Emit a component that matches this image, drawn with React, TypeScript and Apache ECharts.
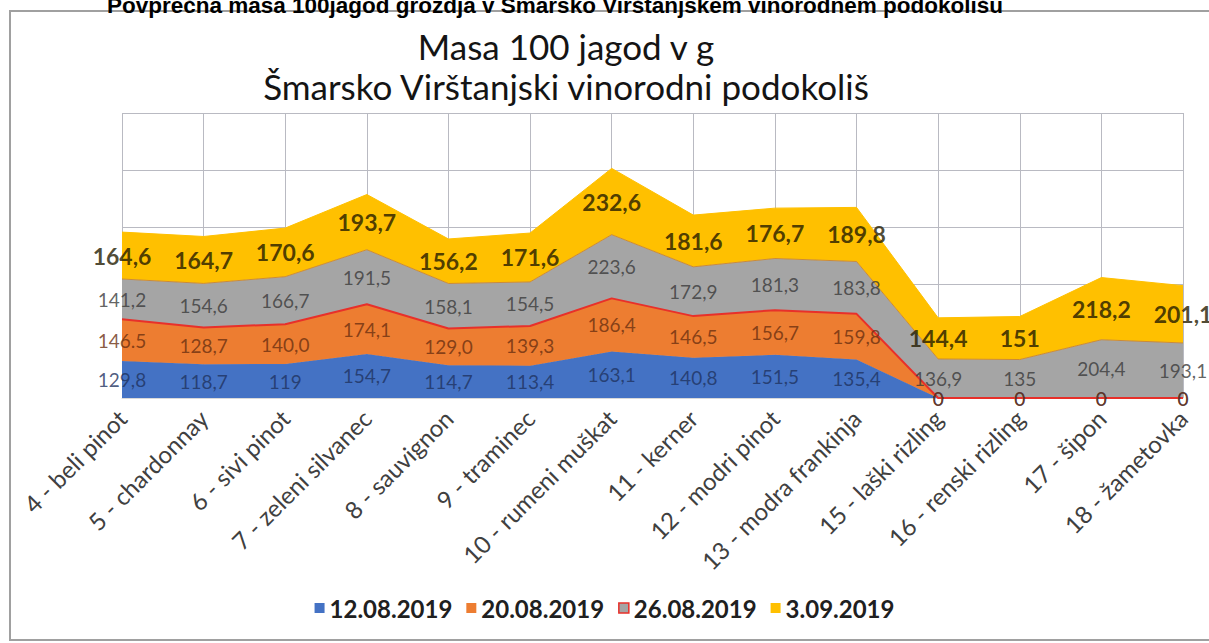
import React, { useEffect, useRef } from "react";
import * as echarts from "echarts";

const categories = [
  "4 - beli pinot",
  "5 - chardonnay",
  "6 - sivi pinot",
  "7 - zeleni silvanec",
  "8 - sauvignon",
  "9 - traminec",
  "10 - rumeni muškat",
  "11 - kerner",
  "12 - modri pinot",
  "13 - modra frankinja",
  "15 - laški rizling",
  "16 - renski rizling",
  "17 - šipon",
  "18 - žametovka",
];

const seriesNames = ["12.08.2019", "20.08.2019", "26.08.2019", "3.09.2019"];

const s1208 = [129.8, 118.7, 119, 154.7, 114.7, 113.4, 163.1, 140.8, 151.5, 135.4, 0, 0, 0, 0];
const s2008 = [146.5, 128.7, 140.0, 174.1, 129.0, 139.3, 186.4, 146.5, 156.7, 159.8, 0, 0, 0, 0];
const s2608 = [141.2, 154.6, 166.7, 191.5, 158.1, 154.5, 223.6, 172.9, 181.3, 183.8, 136.9, 135, 204.4, 193.1];
const s0309 = [164.6, 164.7, 170.6, 193.7, 156.2, 171.6, 232.6, 181.6, 176.7, 189.8, 144.4, 151, 218.2, 201.1];

const l1208 = ["129,8", "118,7", "119", "154,7", "114,7", "113,4", "163,1", "140,8", "151,5", "135,4", "0", "0", "0", "0"];
const l2008 = ["146.5", "128,7", "140,0", "174,1", "129,0", "139,3", "186,4", "146,5", "156,7", "159,8", "0", "0", "0", "0"];
const l2608 = ["141,2", "154,6", "166,7", "191,5", "158,1", "154,5", "223,6", "172,9", "181,3", "183,8", "136,9", "135", "204,4", "193,1"];
const l0309 = ["164,6", "164,7", "170,6", "193,7", "156,2", "171,6", "232,6", "181,6", "176,7", "189,8", "144,4", "151", "218,2", "201,1"];

const yMin = 0;
const yMax = 1000;
const yInterval = 200;

const pageTitle = "Povprečna masa 100jagod grozdja v Šmarsko Virštanjskem vinorodnem podokolišu";
const chartTitle1 = "Masa 100 jagod v g";
const chartTitle2 = "Šmarsko Virštanjski vinorodni podokoliš";

export default function App() {
  const ref = useRef<HTMLDivElement>(null);

  useEffect(() => {
    if (!ref.current) return;
    const chart = echarts.init(ref.current, null, { renderer: "svg" });

    const values = [s1208, s2008, s2608, s0309];
    const labels = [l1208, l2008, l2608, l0309];
    const fills = ["#4472C4", "#ED7D31", "#A5A5A5", "#FFC000"];
    const lines = ["#4A76C6", "#E8302A", "#C98A3A", "#FFC000"];
    const labelColors = ["#1F3360", "#6B3010", "#3A3A3A", "#221A00"];
    const font = "Lato, 'Open Sans', sans-serif";

    // midpoints of each stacked band (for centered data labels)
    const mids = values.map((arr, si) =>
      arr.map((v, i) => {
        let base = 0;
        for (let k = 0; k < si; k++) base += values[k][i];
        return base + v / 2;
      })
    );

    const areaSeries = values.map((arr, si) => ({
      name: seriesNames[si],
      type: "line",
      stack: "total",
      data: arr,
      symbol: "none",
      color: fills[si],
      lineStyle: { color: lines[si], width: si === 1 ? 2 : 1 },
      areaStyle: { color: fills[si], opacity: 1 },
      itemStyle: { color: fills[si] },
      z: si === 1 ? 4 : 2,
      silent: true,
    }));

    const labelSeries = mids.map((arr, si) => ({
      name: "lbl" + si,
      type: "scatter",
      data: arr,
      symbolSize: 0,
      clip: false,
      silent: true,
      z: 10,
      label: {
        show: true,
        position: "inside",
        formatter: (p: any) => labels[si][p.dataIndex],
        color: labelColors[si],
        fontFamily: font,
        fontSize: si === 3 ? 23 : 19,
        fontWeight: si === 3 ? "bold" : "normal",
      },
    }));

    chart.setOption({
      animation: false,
      backgroundColor: "#ffffff",
      textStyle: { fontFamily: font },
      grid: { left: 122, right: 26, top: 113, bottom: 245, containLabel: false },
      xAxis: {
        type: "category",
        data: categories,
        boundaryGap: false,
        axisLine: { show: true, lineStyle: { color: "#D9D9D9" } },
        axisTick: { show: false },
        splitLine: { show: true, lineStyle: { color: "#B9BAC2", width: 1 } },
        axisLabel: {
          rotate: 45,
          interval: 0,
          margin: 16,
          color: "#404040",
          fontFamily: font,
          fontSize: 24,
        },
      },
      yAxis: {
        type: "value",
        min: yMin,
        max: yMax,
        interval: yInterval,
        axisLabel: { show: false },
        axisLine: { show: false },
        axisTick: { show: false },
        splitLine: { show: true, lineStyle: { color: "#B9BAC2", width: 1 } },
      },
      legend: {
        top: 591,
        left: "center",
        itemWidth: 10,
        itemHeight: 10,
        itemGap: 14,
        icon: "rect",
        textStyle: { color: "#202020", fontFamily: font, fontSize: 24, fontWeight: "bold" },
        data: seriesNames.map((n, i) => ({
          name: n,
          icon: "rect",
          itemStyle:
            i === 2
              ? { color: fills[i], borderColor: "#E8302A", borderWidth: 1.5 }
              : { color: fills[i], borderWidth: 0 },
          lineStyle: { width: 0 },
        })),
      },
      graphic: [
        {
          type: "rect",
          shape: { x: 10, y: 11, width: 1210, height: 629 },
          style: { fill: "none", stroke: "#A0A0A0", lineWidth: 2 },
          silent: true,
        },
        {
          type: "text",
          x: 555,
          y: 5,
          style: {
            text: pageTitle,
            font: "bold 22.5px 'Liberation Sans', Arial, sans-serif",
            fill: "#000000",
            textAlign: "center",
            textVerticalAlign: "middle",
          },
          silent: true,
        },
        {
          type: "text",
          x: 566,
          y: 46,
          style: {
            text: chartTitle1,
            font: "35px Lato, 'Open Sans', sans-serif",
            fill: "#141414",
            textAlign: "center",
            textVerticalAlign: "middle",
          },
          silent: true,
        },
        {
          type: "text",
          x: 566,
          y: 86,
          style: {
            text: chartTitle2,
            font: "35px Lato, 'Open Sans', sans-serif",
            fill: "#141414",
            textAlign: "center",
            textVerticalAlign: "middle",
          },
          silent: true,
        },
      ],
      series: [...areaSeries, ...labelSeries],
    });

    return () => chart.dispose();
  }, []);

  return (
    <div
      ref={ref}
      style={{ position: "fixed", left: 0, top: 0, width: 1209, height: 643 }}
    />
  );
}
